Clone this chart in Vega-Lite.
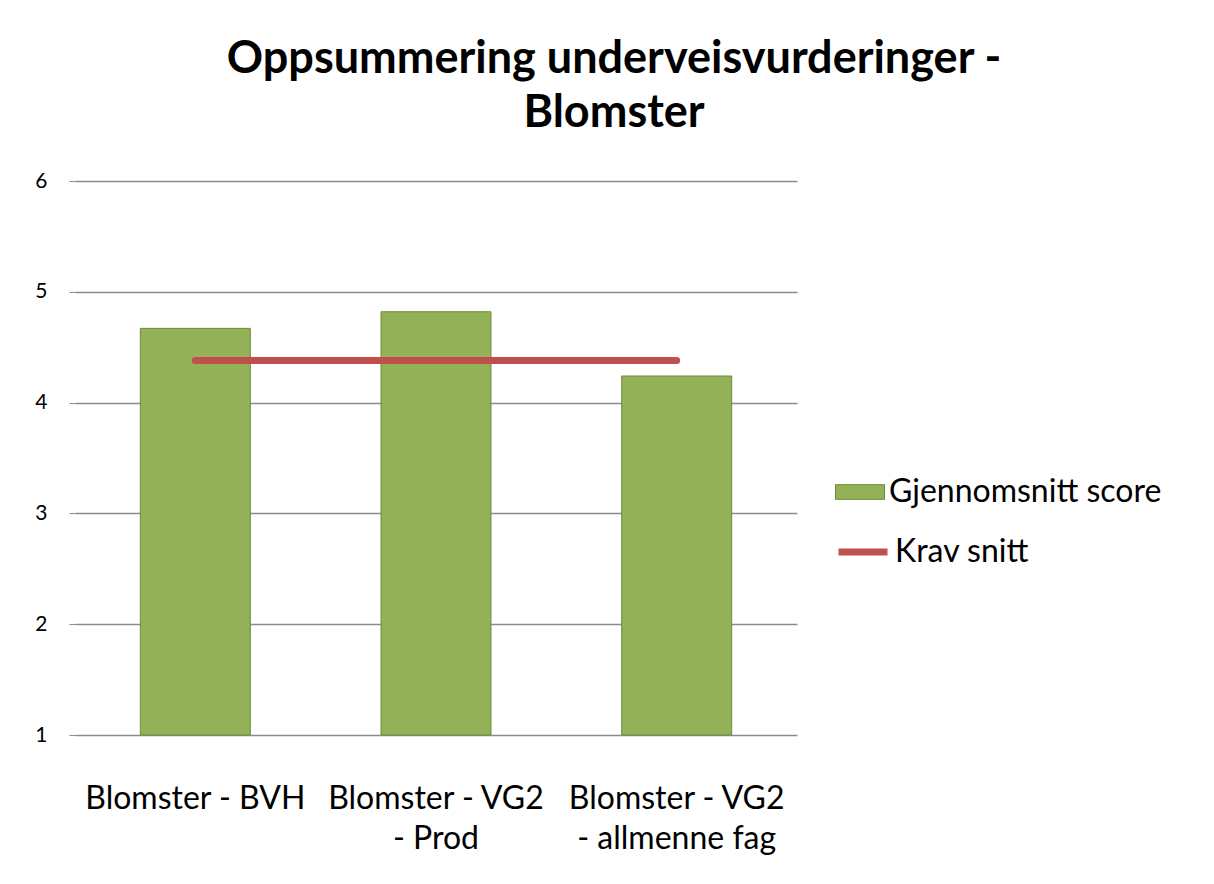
{
  "$schema": "https://vega.github.io/schema/vega-lite/v6.json",
  "width": 722,
  "height": 554,
  "autosize": {"type": "none"},
  "padding": {"left": 75, "top": 181, "right": 417, "bottom": 149},
  "background": "white",
  "config": {"view": {"stroke": null}, "font": "Lato"},
  "title": {
    "text": ["Oppsummering underveisvurderinger -", "Blomster"],
    "font": "Lato",
    "fontSize": 45,
    "fontWeight": "bold",
    "color": "black",
    "lineHeight": 54,
    "anchor": "middle",
    "dx": 178,
    "offset": 34
  },
  "data": {
    "values": [
      {"kategori": "Blomster - BVH", "score": 4.67, "krav": 4.38},
      {"kategori": "Blomster - VG2 - Prod", "score": 4.82, "krav": 4.38},
      {"kategori": "Blomster - VG2 - allmenne fag", "score": 4.24, "krav": 4.38}
    ]
  },
  "encoding": {
    "x": {
      "field": "kategori",
      "type": "nominal",
      "sort": null,
      "title": null,
      "scale": {"paddingInner": 0, "paddingOuter": 0},
      "axis": {
        "labelAngle": 0,
        "labelFontSize": 32,
        "labelColor": "black",
        "labelFont": "Lato",
        "labelPadding": 48,
        "labelLineHeight": 40,
        "labelExpr": "datum.label == 'Blomster - BVH' ? 'Blomster - BVH' : datum.label == 'Blomster - VG2 - Prod' ? ['Blomster - VG2', '- Prod'] : ['Blomster - VG2', '- allmenne fag']",
        "ticks": false,
        "domain": false,
        "labelLimit": 400
      }
    }
  },
  "layer": [
    {
      "mark": {"type": "bar", "width": {"band": 0.457}, "stroke": "#6f8a3a", "strokeWidth": 1},
      "encoding": {
        "y": {
          "field": "score",
          "type": "quantitative",
          "scale": {"domain": [1, 6], "zero": false, "nice": false},
          "title": null,
          "axis": {
            "values": [1, 2, 3, 4, 5, 6],
            "format": "d",
            "labelFontSize": 21,
            "labelColor": "black",
            "labelFont": "Lato",
            "labelPadding": 22,
            "grid": true,
            "gridColor": "#8c8c8c",
            "gridWidth": 1.5,
            "domain": false,
            "tickColor": "#8c8c8c",
            "tickSize": 6
          }
        },
        "y2": {"datum": 1},
        "fill": {
          "datum": "Gjennomsnitt score",
          "type": "nominal",
          "scale": {"range": ["#93b156"]},
          "legend": {
            "orient": "none",
            "legendX": 760,
            "legendY": 286,
            "title": null,
            "labelFontSize": 32,
            "labelColor": "black",
            "labelFont": "Lato",
            "labelLimit": 500,
            "symbolType": "M-1,-0.3H1V0.3H-1Z",
            "symbolSize": 2400,
            "symbolStrokeColor": "#6f8a3a",
            "symbolStrokeWidth": 1,
            "labelOffset": 4
          }
        }
      }
    },
    {
      "mark": {"type": "line", "strokeWidth": 7, "strokeCap": "round"},
      "encoding": {
        "y": {"field": "krav", "type": "quantitative"},
        "stroke": {
          "datum": "Krav snitt",
          "type": "nominal",
          "scale": {"range": ["#c0504d"]},
          "legend": {
            "orient": "none",
            "legendX": 760,
            "legendY": 343,
            "title": null,
            "labelFontSize": 32,
            "labelColor": "black",
            "labelFont": "Lato",
            "labelLimit": 500,
            "symbolType": "stroke",
            "symbolSize": 2400,
            "symbolStrokeWidth": 7,
            "labelOffset": 4
          }
        }
      }
    }
  ]
}
